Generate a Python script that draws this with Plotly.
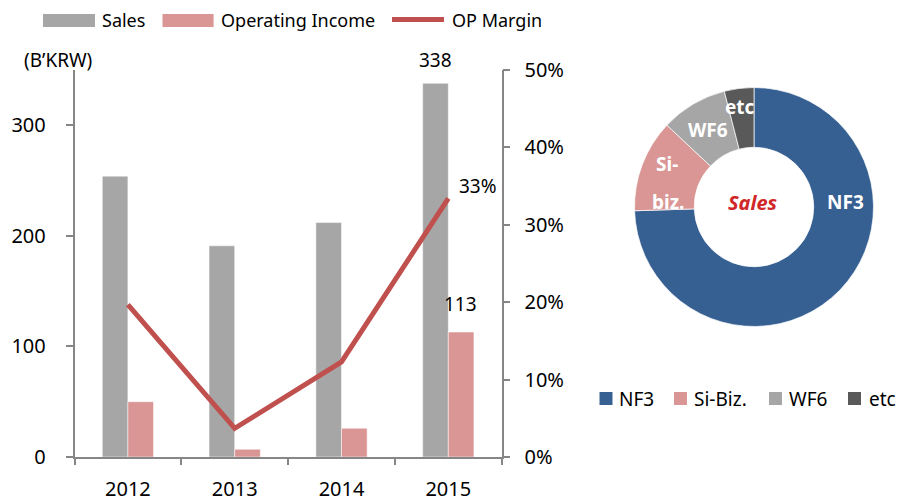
import plotly.graph_objects as go

years = ["2012", "2013", "2014", "2015"]
sales = [254, 191, 212, 338]
op_income = [50, 7, 26, 113]
op_margin = [0.197, 0.037, 0.123, 0.334]

mix_labels = ["NF3", "Si-Biz.", "WF6", "etc"]
mix_values = [74.5, 12.5, 9.0, 4.0]
mix_colors = ["#376092", "#D99694", "#A6A6A6", "#595959"]

FONT = "Noto Sans"
W, H = 898, 503
def px(x):
    return x / W
def py(y):
    return 1 - y / H

fig = go.Figure()
fig.add_trace(go.Bar(x=years, y=sales, name="Sales", marker=dict(color="#A6A6A6", line=dict(color="white", width=0.5)),
                     showlegend=False))
fig.add_trace(go.Bar(x=years, y=op_income, name="Operating Income", marker=dict(color="#D99694", line=dict(color="white", width=0.5)),
                     showlegend=False))
fig.add_trace(go.Scatter(x=years, y=op_margin, name="OP Margin", yaxis="y2", mode="lines",
                         line=dict(color="#C0504D", width=5), showlegend=False))

fig.add_trace(go.Pie(labels=mix_labels, values=mix_values, hole=0.5, sort=False, direction="clockwise",
                     rotation=0, textinfo="none",
                     marker=dict(colors=mix_colors, line=dict(color="white", width=0.7)),
                     domain=dict(x=[px(634.5), px(873.5)], y=[py(326.5), py(87.5)]),
                     showlegend=False))

axis_col = "#868686"
fig.update_layout(
    width=W, height=H, margin=dict(l=0, r=0, t=0, b=0, autoexpand=False),
    paper_bgcolor="white", plot_bgcolor="white",
    font=dict(family=FONT, size=20, color="#000000"),
    barmode="group", bargap=0.52, bargroupgap=0, showlegend=False,
    xaxis=dict(domain=[px(74.5), px(501.7)], type="category", categoryorder="array", categoryarray=years,
               range=[-0.5, 3.5], autorange=False, automargin=False,
               showline=True, linecolor=axis_col, linewidth=1.5,
               ticks="outside", tickson="boundaries", ticklen=6, tickcolor=axis_col, tickwidth=1.5,
               showgrid=False, ticklabelstandoff=13, tickangle=0, tickfont=dict(size=20)),
    yaxis=dict(domain=[py(457), py(70)], range=[0, 350], autorange=False, automargin=False,
               tickvals=[0, 100, 200, 300], showline=True,
               linecolor=axis_col, linewidth=1.5, ticks="outside", ticklen=7, tickcolor=axis_col, tickwidth=1.5,
               showgrid=False, zeroline=False, ticklabelstandoff=16, tickfont=dict(size=20)),
    yaxis2=dict(overlaying="y", side="right", range=[0, 0.5], autorange=False, automargin=False,
                tickvals=[0, 0.1, 0.2, 0.3, 0.4, 0.5],
                tickformat=".0%", showline=True, linecolor=axis_col, linewidth=1.5, ticks="outside", ticklen=7,
                tickcolor=axis_col, tickwidth=1.5, showgrid=False, zeroline=False, ticklabelstandoff=10,
                tickfont=dict(size=20)),
)

# manual legends
shapes = [
    dict(type="rect", xref="paper", yref="paper", x0=px(43), x1=px(95), y0=py(27), y1=py(14),
         fillcolor="#A6A6A6", line=dict(width=0)),
    dict(type="rect", xref="paper", yref="paper", x0=px(162.5), x1=px(213.6), y0=py(27), y1=py(14),
         fillcolor="#D99694", line=dict(width=0)),
    dict(type="line", xref="paper", yref="paper", x0=px(392), x1=px(444), y0=py(19.6), y1=py(19.6),
         line=dict(color="#C0504D", width=5)),
]
ann = []
for txt, x in [("Sales", 100), ("Operating Income", 218.6), ("OP Margin", 450)]:
    ann.append(dict(xref="paper", yref="paper", x=px(x), y=py(20), text=txt, showarrow=False,
                    xanchor="left", yanchor="middle", font=dict(size=18)))

pie_leg_sq = [599.5, 674, 769, 848]
pie_leg_tx = [617, 692, 787, 867]
for lab, col, sx, tx in zip(mix_labels, mix_colors, pie_leg_sq, pie_leg_tx):
    shapes.append(dict(type="rect", xref="paper", yref="paper", x0=px(sx), x1=px(sx + 13), y0=py(405), y1=py(392),
                       fillcolor=col, line=dict(width=0)))
    ann.append(dict(xref="paper", yref="paper", x=px(tx), y=py(398.5), text=lab, showarrow=False,
                    xanchor="left", yanchor="middle", font=dict(size=19)))
fig.update_layout(shapes=shapes)

ann.append(dict(xref="paper", yref="paper", x=px(58), y=py(60), text="(B’KRW)", showarrow=False,
                xanchor="center", yanchor="middle", font=dict(size=19)))
# data labels (category index position on the x axis)
last = len(years) - 1
ann.append(dict(x=last, y=sales[last], xref="x", yref="y", text=str(sales[last]), showarrow=False,
                xshift=-13, yshift=23, yanchor="middle", font=dict(size=19)))
ann.append(dict(x=last, y=op_income[last], xref="x", yref="y", text=str(op_income[last]), showarrow=False,
                xshift=12, yshift=28, yanchor="middle", font=dict(size=19)))
ann.append(dict(x=last, y=op_margin[last], xref="x", yref="y2", text=f"{round(op_margin[last]*100)}%",
                showarrow=False, xshift=9, yshift=12, xanchor="left", yanchor="middle", font=dict(size=19)))
# donut labels
for txt, x, y in [("NF3", 845, 202), ("Si-", 667, 164), ("biz.", 668, 202), ("WF6", 708, 130), ("etc", 740, 107)]:
    ann.append(dict(xref="paper", yref="paper", x=px(x), y=py(y), text=f"<b>{txt}</b>", showarrow=False,
                    xanchor="center", yanchor="middle", font=dict(size=19, color="white")))
ann.append(dict(xref="paper", yref="paper", x=px(753), y=py(203), text="<b><i>Sales</i></b>", showarrow=False,
                xanchor="center", yanchor="middle", font=dict(size=20, color="#D0282A")))
fig.update_layout(annotations=ann)

fig.write_html("out.html", config={"displayModeBar": False},
               post_script="document.body.style.margin='0';document.body.style.overflow='hidden';")
